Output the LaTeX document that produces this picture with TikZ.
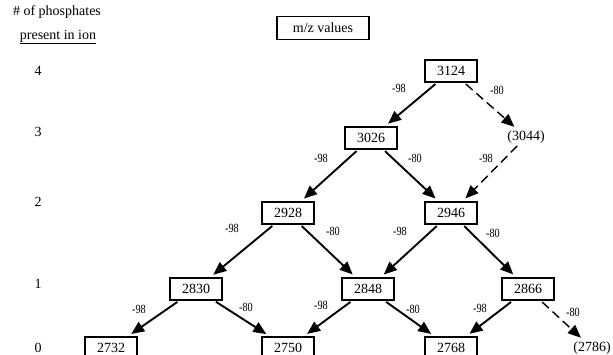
\documentclass[tikz,border=0pt]{standalone}
\usepackage{fontspec}
\setmainfont{Liberation Serif}
\newfontfamily\narrowfont[FakeStretch=0.82]{Liberation Serif}
\usetikzlibrary{arrows.meta}
\begin{document}
\begin{tikzpicture}[x=1pt,y=-1pt,
  txt/.style={font=\fontsize{14}{16}\selectfont, inner sep=1pt},
  mzbox/.style={txt, draw, line width=1.5pt, minimum width=52pt, minimum height=22pt, inner sep=0pt},
  lbl/.style={font=\narrowfont\fontsize{12.5}{14}\selectfont, inner sep=0pt},
  conn/.style={line width=1.9pt, -{Triangle[length=13pt,width=11pt]}, shorten <=2pt, shorten >=4pt},
  dconn/.style={conn, line width=1.4pt, dash pattern=on 9pt off 5pt}]
\useasboundingbox (0,0) rectangle (613,355);
\clip (0,0) rectangle (613,355);
% header
\node[txt] (hdr1) at (57,12) {\# of phosphates};
\node[txt] (hdr2) at (58,37) {\underline{present in ion}};
\node[mzbox, minimum width=92pt, minimum height=23pt] (mz) at (323,28) {m/z values};
% row labels
\node[txt] (r4) at (38,71) {4};
\node[txt] (r3) at (38,132) {3};
\node[txt] (r2) at (38,202) {2};
\node[txt] (r1) at (38,284) {1};
\node[txt] (r0) at (38,348) {0};
% nodes
\node[mzbox] (n3124) at (451,71) {3124};
\node[mzbox] (n3026) at (371,138) {3026};
\node[txt] (n3044) at (526,137) {(3044)};
\node[mzbox] (n2928) at (288,213) {2928};
\node[mzbox] (n2946) at (451,213) {2946};
\node[mzbox] (n2830) at (196,289) {2830};
\node[mzbox] (n2848) at (368,289) {2848};
\node[mzbox] (n2866) at (528,289) {2866};
\node[mzbox] (n2732) at (111,348) {2732};
\node[mzbox] (n2750) at (288,348) {2750};
\node[mzbox] (n2768) at (451,348) {2768};
\node[txt] (n2786) at (592,348) {(2786)};
% connectors
\draw[conn] (n3124) -- (n3026);
\draw[dconn] (n3124) -- (n3044);
\draw[conn] (n3026) -- (n2928);
\draw[conn] (n3026) -- (n2946);
\draw[dconn] (n3044) -- (n2946);
\draw[conn] (n2928) -- (n2830);
\draw[conn] (n2928) -- (n2848);
\draw[conn] (n2946) -- (n2848);
\draw[conn] (n2946) -- (n2866);
\draw[conn] (n2830) -- (n2732);
\draw[conn] (n2830) -- (n2750);
\draw[conn] (n2848) -- (n2750);
\draw[conn] (n2848) -- (n2768);
\draw[conn] (n2866) -- (n2768);
\draw[dconn] (n2866) -- (n2786);
% labels
\node[lbl] (l1) at (399,88) {-98};
\node[lbl] (l2) at (497,90) {-80};
\node[lbl] (l3) at (321,158) {-98};
\node[lbl] (l4) at (415,158) {-80};
\node[lbl] (l5) at (486,158) {-98};
\node[lbl] (l6) at (232,228) {-98};
\node[lbl] (l7) at (333,231) {-80};
\node[lbl] (l8) at (400,231) {-98};
\node[lbl] (l9) at (493,233) {-80};
\node[lbl] (l10) at (139,309) {-98};
\node[lbl] (l11) at (246,307) {-80};
\node[lbl] (l12) at (321,305) {-98};
\node[lbl] (l13) at (413,309) {-80};
\node[lbl] (l14) at (480,308) {-98};
\node[lbl] (l15) at (573,312) {-80};
\end{tikzpicture}
\end{document}
